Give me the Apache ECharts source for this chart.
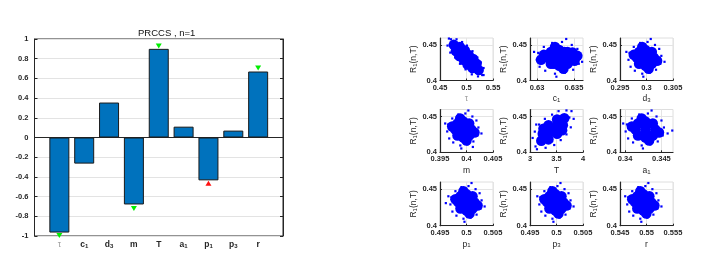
<!DOCTYPE html>
<html><head><meta charset="utf-8">
<script src="https://cdn.jsdelivr.net/npm/echarts@6/dist/echarts.min.js"></script>
<style>html,body{margin:0;padding:0;background:#fff}#c{width:707px;height:257px}</style>
</head><body><div id="c"></div>
<script>
// ---- bar chart data ----
const catBase = ['τ','c','d','m','T','a','p','p','r'];
const catSub  = ['','1','3','','','1','1','3',''];
const prcc = [-0.965,-0.265,0.355,-0.68,0.90,0.11,-0.435,0.07,0.67];
const greenPos = [1,4,5,9];
const greenVal = [-0.995,-0.72,0.93,0.705];
const redPos = [7];
const redVal = [-0.465];

// ---- scatter panel axes ----
const panelXMin = [0.45,0.62905,0.295,0.395,3,0.3393,0.495,0.495,0.545];
const panelXMax = [0.55,0.63622,0.305,0.405,4,0.3466,0.505,0.505,0.555];
const panelXTicks = [[0.45,0.5,0.55],[0.63,0.635],[0.295,0.3,0.305],[0.395,0.4,0.405],[3,3.5,4],[0.34,0.345],[0.495,0.5,0.505],[0.495,0.5,0.505],[0.545,0.55,0.555]];
const rMin = 0.4, rMax = 0.46;
const rTicks = [0.4,0.45];

// ---- scatter clouds (dense core + sparse edge points) ----
const tauCore = [[0.476,0.4503],[0.4877,0.4473],[0.4799,0.4415],[0.4917,0.4384],[0.5041,0.436],[0.4949,0.429],[0.5073,0.4266],[0.5191,0.4235],[0.5113,0.4177],[0.523,0.4147],[0.5126,0.4305],[0.5021,0.4226],[0.4969,0.4424],[0.4864,0.4345]];
const tauSpeck = [[0.4707,0.4582],[0.4642,0.4493],[0.4812,0.4582],[0.4917,0.4543],[0.5008,0.4493],[0.5113,0.4414],[0.5204,0.4325],[0.527,0.4256],[0.5322,0.4176],[0.5296,0.4077],[0.5322,0.4077],[0.5217,0.4058],[0.51,0.4087],[0.4982,0.4157],[0.4877,0.4236],[0.4786,0.4325],[0.4694,0.4394],[0.4668,0.4592]];
const c1Core = [[0.633,0.432],[0.63149,0.432],[0.63451,0.432],[0.633,0.4432],[0.633,0.4208],[0.63187,0.4404],[0.63413,0.4404],[0.63187,0.4236],[0.63413,0.4236],[0.63092,0.4362],[0.63508,0.4278],[0.63243,0.4474],[0.63357,0.4166],[0.63054,0.4292],[0.63546,0.4348],[0.63375,0.432],[0.63225,0.432],[0.6337,0.4404],[0.6323,0.4404],[0.6337,0.4236],[0.6323,0.4236],[0.6348,0.4395]];
const c1Speck = [[0.63584,0.4348],[0.63546,0.4446],[0.6347,0.4502],[0.63338,0.4544],[0.63205,0.453],[0.63092,0.4474],[0.63016,0.439],[0.62998,0.4292],[0.63035,0.4194],[0.63111,0.4138],[0.63243,0.4096],[0.63376,0.411],[0.63489,0.4152],[0.63565,0.4236],[0.6361,0.4264],[0.6296,0.4404],[0.63395,0.4586],[0.63262,0.4054]];
const d3Core = [[0.2998,0.432],[0.2982,0.432],[0.3014,0.432],[0.2998,0.4432],[0.2998,0.4208],[0.2986,0.4404],[0.301,0.4404],[0.2986,0.4236],[0.301,0.4236],[0.2976,0.4362],[0.302,0.4278],[0.2992,0.4474],[0.3004,0.4166]];
const d3Speck = [[0.3028,0.4348],[0.3024,0.4446],[0.3016,0.4502],[0.3002,0.4544],[0.2988,0.453],[0.2976,0.4474],[0.2968,0.439],[0.2966,0.4292],[0.297,0.4194],[0.2978,0.4138],[0.2992,0.4096],[0.3006,0.411],[0.3018,0.4152],[0.3026,0.4236],[0.3034,0.4264],[0.2962,0.4404],[0.3008,0.4586],[0.2994,0.4054]];
const mCore = [[0.3994,0.432],[0.3979,0.432],[0.4009,0.432],[0.3994,0.4432],[0.3994,0.4208],[0.3983,0.4404],[0.4005,0.4404],[0.3983,0.4236],[0.4005,0.4236],[0.3973,0.4362],[0.4015,0.4278],[0.3988,0.4474],[0.4,0.4166]];
const mSpeck = [[0.40225,0.4348],[0.40187,0.4446],[0.40111,0.4502],[0.39978,0.4544],[0.39845,0.453],[0.39731,0.4474],[0.39655,0.439],[0.39636,0.4292],[0.39674,0.4194],[0.3975,0.4138],[0.39883,0.4096],[0.40016,0.411],[0.4013,0.4152],[0.40206,0.4236],[0.40282,0.4264],[0.39598,0.4404],[0.40035,0.4586],[0.39902,0.4054],[0.4012,0.4075]];
const TCore = [[3.2128,0.4162],[3.2399,0.4261],[3.3486,0.4181],[3.3757,0.428],[3.3486,0.4379],[3.5114,0.4261],[3.4843,0.436],[3.5114,0.4459],[3.6201,0.4379],[3.6472,0.4478],[3.2535,0.433],[3.6065,0.431]];
const TSpeck = [[3.1042,0.4082],[3.0498,0.4201],[3.0905,0.429],[3.172,0.4389],[3.2806,0.4469],[3.4164,0.4528],[3.5387,0.4577],[3.688,0.4587],[3.7829,0.4577],[3.8238,0.4469],[3.7695,0.435],[3.688,0.4251],[3.5794,0.4171],[3.4571,0.4102],[3.2943,0.4063],[3.1312,0.4043],[3.7422,0.4488],[3.1178,0.4389]];
const a1Core = [[0.3428,0.432],[0.34144,0.432],[0.34416,0.432],[0.3428,0.4432],[0.3428,0.4208],[0.34178,0.4404],[0.34382,0.4404],[0.34178,0.4236],[0.34382,0.4236],[0.34093,0.4362],[0.34467,0.4278],[0.34229,0.4474],[0.34331,0.4166]];
const a1Speck = [[0.34535,0.4348],[0.34501,0.4446],[0.34433,0.4502],[0.34314,0.4544],[0.34195,0.453],[0.34093,0.4474],[0.34025,0.439],[0.34008,0.4292],[0.34042,0.4194],[0.3411,0.4138],[0.34229,0.4096],[0.34348,0.411],[0.3445,0.4152],[0.34518,0.4236],[0.34586,0.4264],[0.33974,0.4404],[0.34365,0.4586],[0.34246,0.4054],[0.3465,0.4305]];
const p1Core = [[0.5,0.432],[0.49848,0.432],[0.50152,0.432],[0.5,0.4432],[0.5,0.4208],[0.49886,0.4404],[0.50114,0.4404],[0.49886,0.4236],[0.50114,0.4236],[0.49791,0.4362],[0.50209,0.4278],[0.49943,0.4474],[0.50057,0.4166]];
const p1Speck = [[0.50285,0.4348],[0.50247,0.4446],[0.50171,0.4502],[0.50038,0.4544],[0.49905,0.453],[0.49791,0.4474],[0.49715,0.439],[0.49696,0.4292],[0.49734,0.4194],[0.4981,0.4138],[0.49943,0.4096],[0.50076,0.411],[0.5019,0.4152],[0.50266,0.4236],[0.50342,0.4264],[0.49658,0.4404],[0.50095,0.4586],[0.49962,0.4054],[0.4961,0.431]];
const p3Core = [[0.4998,0.432],[0.49828,0.432],[0.50132,0.432],[0.4998,0.4432],[0.4998,0.4208],[0.49866,0.4404],[0.50094,0.4404],[0.49866,0.4236],[0.50094,0.4236],[0.49771,0.4362],[0.50189,0.4278],[0.49923,0.4474],[0.50037,0.4166]];
const p3Speck = [[0.50265,0.4348],[0.50227,0.4446],[0.50151,0.4502],[0.50018,0.4544],[0.49885,0.453],[0.49771,0.4474],[0.49695,0.439],[0.49676,0.4292],[0.49714,0.4194],[0.4979,0.4138],[0.49923,0.4096],[0.50056,0.411],[0.5017,0.4152],[0.50246,0.4236],[0.50322,0.4264],[0.49638,0.4404],[0.50075,0.4586],[0.49942,0.4054]];
const rCore = [[0.5494,0.432],[0.54788,0.432],[0.55092,0.432],[0.5494,0.4432],[0.5494,0.4208],[0.54826,0.4404],[0.55054,0.4404],[0.54826,0.4236],[0.55054,0.4236],[0.54731,0.4362],[0.55149,0.4278],[0.54883,0.4474],[0.54997,0.4166]];
const rSpeck = [[0.55225,0.4348],[0.55187,0.4446],[0.55111,0.4502],[0.54978,0.4544],[0.54845,0.453],[0.54731,0.4474],[0.54655,0.439],[0.54636,0.4292],[0.54674,0.4194],[0.5475,0.4138],[0.54883,0.4096],[0.55016,0.411],[0.5513,0.4152],[0.55206,0.4236],[0.55282,0.4264],[0.54598,0.4404],[0.55035,0.4586],[0.54902,0.4054]];

const panelCore = [tauCore,c1Core,d3Core,mCore,TCore,a1Core,p1Core,p3Core,rCore];
const panelSpeck = [tauSpeck,c1Speck,d3Speck,mSpeck,TSpeck,a1Speck,p1Speck,p3Speck,rSpeck];

// ---- layout ----
const FONT = 'Liberation Sans, Arial, sans-serif';
const TXT = '#262626';
const colLeft = [440,530,620];
const rowTop = [38,109.5,182];
const rowH = [42.5,42.8,43.7];

function subName(base, sub, tau){
  return sub ? '{b|'+base+'}{s|'+sub+'}' : (tau ? '{g|'+base+'}' : '{b|'+base+'}');
}
const richLab = {
  b:{fontSize:8.5,fontWeight:'bold',color:TXT,fontFamily:FONT,lineHeight:11,verticalAlign:'bottom'},
  g:{fontSize:8.5,color:'#9a9a9a',fontFamily:FONT,lineHeight:11,verticalAlign:'bottom'},
  s:{fontSize:6,fontWeight:'bold',color:TXT,fontFamily:FONT,lineHeight:7,verticalAlign:'bottom'}
};
const richName = {
  b:{fontSize:8.5,color:TXT,fontFamily:FONT,lineHeight:11,verticalAlign:'bottom'},
  g:{fontSize:8.5,color:'#9a9a9a',fontFamily:FONT,lineHeight:11,verticalAlign:'bottom'},
  s:{fontSize:6,color:TXT,fontFamily:FONT,lineHeight:7,verticalAlign:'bottom'}
};

const grids = [{left:34.5, top:39, width:248.5, height:197, show:true, borderColor:TXT, borderWidth:1, backgroundColor:'transparent'}];
const xAxes = [{
  type:'value', gridIndex:0, min:0, max:10, interval:1,
  axisLine:{show:true,lineStyle:{color:TXT,width:1}},
  axisTick:{show:false}, splitLine:{show:false},
  axisLabel:{margin:2, formatter:function(v){const i=Math.round(v)-1; if(i<0||i>8) return ''; return subName(catBase[i],catSub[i],i===0);}, rich:richLab}
}];
const yAxes = [{
  type:'value', gridIndex:0, min:-1, max:1, interval:0.2,
  axisLine:{show:true,lineStyle:{color:TXT,width:1}},
  axisTick:{show:true,inside:true,length:3,lineStyle:{color:TXT}},
  splitLine:{show:true,lineStyle:{color:'#e3e3e3',width:1}},
  axisLabel:{fontSize:7.5,fontWeight:'bold',color:TXT,fontFamily:FONT,margin:6}
},{
  type:'value', gridIndex:0, position:'right', min:-1, max:1, interval:0.2,
  axisLine:{show:true,lineStyle:{color:TXT,width:1}},
  axisTick:{show:true,inside:true,length:3,lineStyle:{color:TXT}},
  splitLine:{show:false}, axisLabel:{show:false}
}];
const series = [{
  type:'bar', xAxisIndex:0, yAxisIndex:0, barWidth:20,
  data: prcc.map((v,i)=>[i+1,v]),
  itemStyle:{color:'#0072BD',borderColor:'#1a1a1a',borderWidth:1}, z:2
},{
  type:'scatter', xAxisIndex:0, yAxisIndex:0, symbol:'triangle', symbolSize:[6,5], symbolRotate:180,
  data: greenPos.map((p,i)=>[p,greenVal[i]]), itemStyle:{color:'#00ee00',opacity:1}, z:3
},{
  type:'scatter', xAxisIndex:0, yAxisIndex:0, symbol:'triangle', symbolSize:[6,5],
  data: redPos.map((p,i)=>[p,redVal[i]]), itemStyle:{color:'#ff1010',opacity:1}, z:3
}];

for (let i=0;i<9;i++){
  const row=Math.floor(i/3), col=i%3, g=i+1;
  grids.push({left:colLeft[col], top:rowTop[row], width:53, height:rowH[row], show:true, borderColor:'#dedede', borderWidth:1});
  xAxes.push({
    type:'value', gridIndex:g, min:panelXMin[i], max:panelXMax[i],
    axisLine:{show:true,lineStyle:{color:TXT,width:1.2}},
    axisTick:{show:true,inside:true,length:2,customValues:panelXTicks[i],lineStyle:{color:TXT}},
    axisLabel:{show:true,customValues:panelXTicks[i],fontSize:7.5,fontWeight:'bold',color:TXT,fontFamily:FONT,margin:3},
    splitLine:{show:true,lineStyle:{color:'#e4e4e4',width:1}},
    name: subName(catBase[i],catSub[i],i===0), nameLocation:'middle', nameGap:12,
    nameTextStyle:{rich:richName}
  });
  yAxes.push({
    type:'value', gridIndex:g, min:rMin, max:rMax,
    axisLine:{show:true,lineStyle:{color:TXT,width:1.2}},
    axisTick:{show:true,inside:true,length:2,customValues:rTicks,lineStyle:{color:TXT}},
    axisLabel:{show:true,customValues:rTicks,fontSize:7.5,fontWeight:'bold',color:TXT,fontFamily:FONT,margin:3},
    splitLine:{show:true,lineStyle:{color:'#e4e4e4',width:1}},
    name:'{b|R}{s|1}{b|(n,T)}', nameLocation:'middle', nameRotate:90, nameGap:19,
    nameTextStyle:{rich:richName}
  });
  const xi = xAxes.length-1, yi = yAxes.length-1;
  series.push({
    type:'scatter', xAxisIndex:xi, yAxisIndex:yi, data:panelSpeck[i], symbol:'rect', symbolSize:2.2,
    itemStyle:{color:'#0000ff',opacity:1}, z:6, silent:true
  });
  series.push({
    type:'scatter', xAxisIndex:xi, yAxisIndex:yi, data:panelCore[i], symbolSize:10.5,
    itemStyle:{color:'#0000ff',opacity:1}, z:7, silent:true
  });
}

const chart = echarts.init(document.getElementById('c'), null, {renderer:'canvas'});
chart.setOption({
  animation:false,
  backgroundColor:'#ffffff',
  textStyle:{fontFamily:FONT},
  title:{text:'PRCCS , n=1', left:133, top:23, textStyle:{fontSize:9.5,fontWeight:'normal',color:'#111',fontFamily:FONT}},
  grid:grids, xAxis:xAxes, yAxis:yAxes, series:series
});
</script>
</body></html>
